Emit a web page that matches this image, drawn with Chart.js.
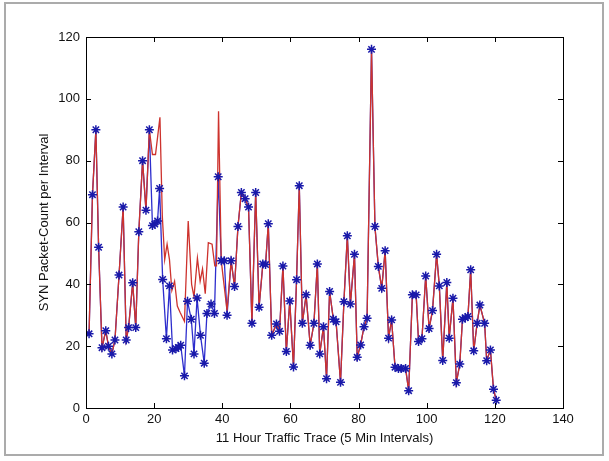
<!DOCTYPE html>
<html lang="en">
	<head>
		<meta charset="utf-8">
		<title>SYN Packet-Count per Interval</title>
		<script src="https://cdn.jsdelivr.net/npm/chart.js"></script>
		<style>
			html, body { margin: 0; padding: 0; background: #fff; }
			#wrap { width: 609px; height: 461px; }
		</style>
	</head>
	<body>
		<div id="wrap"><canvas id="chart" width="609" height="461"></canvas></div>
		<script>
			// blue trace (with * markers)
			const blueX = [0.9, 1.9, 2.9, 3.7, 4.7, 5.8, 6.6, 7.6, 8.5, 9.7,
				10.9, 11.8, 12.5, 13.7, 14.6, 15.5, 16.6, 17.6, 18.6, 19.5,
				20.2, 21.0, 21.6, 22.5, 23.6, 24.5, 25.4, 26.4, 27.1, 27.8,
				28.9, 29.8, 30.9, 31.7, 32.6, 33.6, 34.7, 35.5, 36.7, 37.7,
				38.8, 39.7, 40.6, 41.4, 42.6, 43.6, 44.6, 45.6, 46.7, 47.7,
				48.7, 49.8, 50.8, 51.9, 52.7, 53.5, 54.5, 55.9, 56.8, 57.8,
				58.8, 59.8, 60.9, 61.8, 62.6, 63.5, 64.6, 65.8, 66.9, 67.9,
				68.6, 69.7, 70.6, 71.5, 72.6, 73.4, 74.7, 75.7, 76.7, 77.6,
				78.8, 79.6, 80.6, 81.6, 82.5, 83.8, 84.8, 85.8, 86.8, 87.8,
				88.8, 89.7, 90.7, 91.7, 92.5, 93.8, 94.7, 95.8, 96.9, 97.6,
				98.6, 99.7, 100.7, 101.7, 102.9, 103.7, 104.7, 105.9, 106.6, 107.7,
				108.7, 109.7, 110.5, 111.3, 112.1, 112.9, 113.8, 114.8, 115.6, 117.0,
				117.6, 118.7, 119.6, 120.4]
			const blueY = [24, 69, 90, 52, 19.5, 25, 20, 17.5, 22, 43,
				65, 22, 26, 40.5, 26, 57, 80, 64, 90, 59,
				59.5, 60.5, 71, 41.6, 22.4, 39.5, 18.8, 19.2, 19.6, 20.3,
				10.4, 34.5, 28.7, 17.5, 35.6, 23.5, 14.5, 30.6, 33.6, 30.6,
				74.8, 47.6, 47.6, 30, 47.6, 39.3, 58.7, 69.7, 67.7, 65,
				27.4, 69.7, 32.6, 46.6, 46.4, 59.6, 23.5, 27.2, 24.8, 45.9,
				18.3, 34.6, 13.3, 41.5, 71.9, 27.4, 36.6, 20.3, 27.4, 46.6,
				17.5, 26.3, 9.5, 37.7, 28.7, 27.9, 8.3, 34.4, 55.7, 33.6,
				49.7, 16.4, 20.4, 26.3, 29, 116, 58.7, 45.8, 38.7, 50.9,
				22.6, 28.5, 13.2, 12.8, 12.8, 12.8, 5.6, 36.6, 36.6, 21.5,
				22.4, 42.7, 25.7, 31.5, 49.7, 39.5, 15.4, 40.6, 22.6, 35.5,
				8.2, 14.2, 28.7, 29.2, 29.6, 44.7, 18.5, 27.4, 33.3, 27.4,
				15.3, 18.8, 6.1, 2.5]

			// where the red trace leaves the blue one (roughly x 19..42)
			const redDetourX = [19.5, 20.4, 21.7, 22.4, 23.1, 23.8, 24.5, 25.2, 26.0, 26.8,
				27.6, 28.9, 30.0, 31.0, 31.7, 32.7, 33.5, 34.2, 35.0, 35.9,
				37.0, 37.8, 38.3, 38.9, 39.7, 40.5, 41.4]
			const redDetourY = [82, 82, 94, 62, 48, 53, 48, 38, 41, 33,
				31, 28, 60.5, 40, 36, 48.5, 41, 45, 37, 53.5,
				53, 46, 46, 96, 47.6, 40, 31.5]
			const detourFrom = 19
			const detourTo = 42.6

			const xTicks = [0, 20, 40, 60, 80, 100, 120, 140]
			const yTicks = [0, 20, 40, 60, 80, 100, 120]

			const bluePoints = blueX.map((x, i) => ({x: x, y: blueY[i]}))
			const redPoints = bluePoints.filter(p => p.x < detourFrom)
				.concat(redDetourX.map((x, i) => ({x: x, y: redDetourY[i]})))
				.concat(bluePoints.filter(p => p.x >= detourTo))

			const font = {family: "'Liberation Sans', Arial, sans-serif", size: 13}

			const frame = {
				id: "frame",
				beforeDraw(chart) {
					const ctx = chart.ctx
					ctx.save()
					ctx.fillStyle = "#fff"
					ctx.fillRect(0, 0, chart.width, chart.height)
					ctx.strokeStyle = "#ababab"
					ctx.lineWidth = 2
					ctx.strokeRect(5, 3, chart.width - 11, chart.height - 9)
					ctx.restore()
				},
				afterDraw(chart) {
					const ctx = chart.ctx
					const a = chart.chartArea
					const x = chart.scales.x
					const y = chart.scales.y
					ctx.save()
					ctx.strokeStyle = "#000"
					ctx.lineWidth = 1
					ctx.strokeRect(Math.round(a.left) + 0.5, Math.round(a.top) + 0.5, Math.round(a.width), Math.round(a.height))
					ctx.beginPath()
					xTicks.forEach(v => {
						const p = Math.round(x.getPixelForValue(v)) + 0.5
						ctx.moveTo(p, a.bottom); ctx.lineTo(p, a.bottom - 5)
						ctx.moveTo(p, a.top); ctx.lineTo(p, a.top + 5)
					})
					yTicks.forEach(v => {
						const p = Math.round(y.getPixelForValue(v)) + 0.5
						ctx.moveTo(a.left, p); ctx.lineTo(a.left + 5, p)
						ctx.moveTo(a.right, p); ctx.lineTo(a.right - 5, p)
					})
					ctx.stroke()
					ctx.restore()
				}
			}

			new Chart(document.getElementById("chart").getContext("2d"), {
				type: "line",
				data: {
					datasets: [{
						label: "markers",
						data: bluePoints,
						showLine: false,
						pointStyle: "star",
						pointRadius: 4.5,
						pointBorderWidth: 1.5,
						pointBorderColor: "rgb(25,25,170)",
						pointBackgroundColor: "rgb(25,25,170)",
						order: 0
					}, {
						label: "red",
						data: redPoints,
						borderColor: "rgb(205,50,45)",
						borderWidth: 1.3,
						pointRadius: 0,
						tension: 0,
						order: 1
					}, {
						label: "blue",
						data: bluePoints,
						borderColor: "rgb(45,45,205)",
						borderWidth: 1.3,
						pointRadius: 0,
						tension: 0,
						order: 2
					}]
				},
				options: {
					responsive: false,
					animation: false,
					layout: {
						padding: {top: 37, right: 46, bottom: 0, left: 0}
					},
					scales: {
						x: {
							type: "linear",
							min: 0,
							max: 140,
							afterBuildTicks: s => { s.ticks = xTicks.map(v => ({value: v})) },
							afterFit: s => { s.height = 53 },
							grid: {display: false, drawTicks: false},
							border: {display: false},
							ticks: {color: "#111", font: font, padding: 4, maxRotation: 0},
							title: {
								display: true,
								text: "11 Hour Traffic Trace (5 Min Intervals)",
								color: "#111",
								font: font,
								padding: {top: 0, bottom: 15}
							}
						},
						y: {
							min: 0,
							max: 120,
							afterBuildTicks: s => { s.ticks = yTicks.map(v => ({value: v})) },
							afterFit: s => { s.width = 86 },
							grid: {display: false, drawTicks: false},
							border: {display: false},
							ticks: {color: "#111", font: font, padding: 6},
							title: {
								display: true,
								text: "SYN Packet-Count per Interval",
								color: "#111",
								font: font,
								padding: {top: 37, bottom: 0}
							}
						}
					},
					plugins: {
						legend: {display: false},
						tooltip: {enabled: false}
					}
				},
				plugins: [frame]
			})
		</script>
	</body>
</html>
